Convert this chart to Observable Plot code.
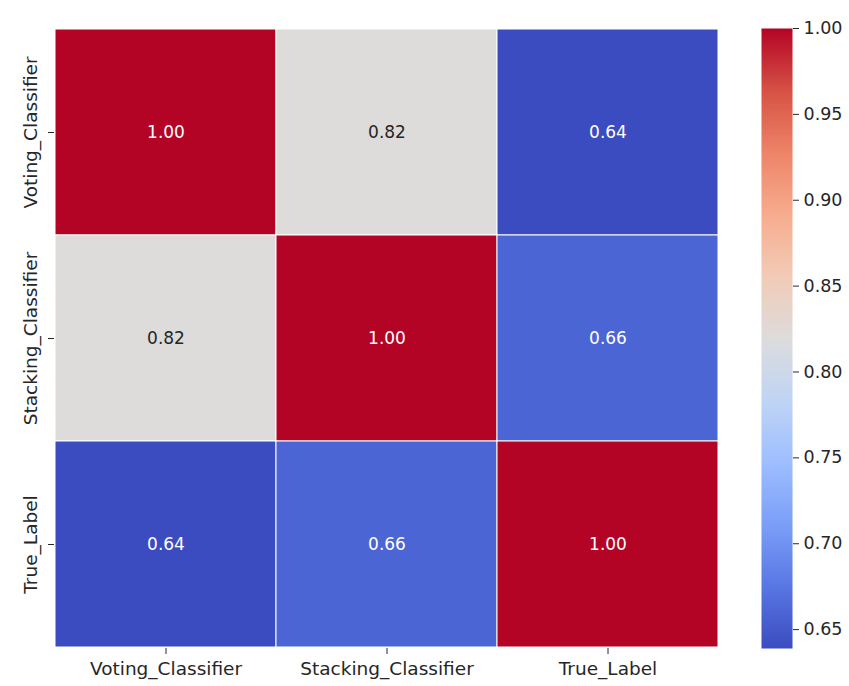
<!DOCTYPE html>
<html>
<head>
<meta charset="utf-8">
<script src="https://cdn.jsdelivr.net/npm/d3@7"></script>
<script src="https://cdn.jsdelivr.net/npm/@observablehq/plot@0.6"></script>
<style>
  html, body { margin: 0; padding: 0; background: #fff; }
  #wrap { position: relative; width: 849px; height: 686px; font-family: "DejaVu Sans", sans-serif; }
  #main { position: absolute; left: 0; top: 0; }
  #cbar { position: absolute; left: 740px; top: 0; }
</style>
</head>
<body>
<div id="wrap"><div id="main"></div><div id="cbar"></div></div>
<script>
// ---- data ----
const labels = ["Voting_Classifier", "Stacking_Classifier", "True_Label"];
const rowVoting   = [1.00, 0.82, 0.639];
const rowStacking = [0.82, 1.00, 0.66];
const rowTrue     = [0.639, 0.66, 1.00];
const colorbarTicks = [0.65, 0.70, 0.75, 0.80, 0.85, 0.90, 0.95, 1.00];

// matplotlib "coolwarm" stops
const coolwarm = ["#3b4cc0", "#5977e3", "#7b9ff9", "#9ebeff", "#c0d4f5", "#dddcdc",
                  "#f2cbb7", "#f7ac8e", "#ee8468", "#d65244", "#b40426"];

const rows = [rowVoting, rowStacking, rowTrue];
const cells = [];
rows.forEach((r, i) => r.forEach((v, j) => cells.push({row: labels[i], col: labels[j], value: v})));

const vmin = d3.min(cells, d => d.value);
const vmax = d3.max(cells, d => d.value);
const colorScale = {
  type: "linear",
  domain: [vmin, vmax],
  interpolate: d3.piecewise(d3.interpolateRgb, coolwarm)
};
const ink = "#262626";
const font = {fontFamily: "DejaVu Sans, sans-serif", fontSize: "17px", color: ink, background: "transparent"};

const main = Plot.plot({
  width: 740, height: 686,
  marginTop: 28, marginBottom: 38, marginLeft: 54, marginRight: 21,
  style: font,
  x: {type: "band", domain: labels, padding: 0, label: null},
  y: {type: "band", domain: labels, padding: 0, label: null},
  color: colorScale,
  marks: [
    Plot.cell(cells, {x: "col", y: "row", fill: "value", stroke: "white", strokeWidth: 1}),
    Plot.text(cells, {x: "col", y: "row", text: d => d3.format(".2f")(d.value),
      fill: d => (d.value > 0.75 && d.value < 0.9) ? ink : "white", fontSize: 17}),
    Plot.axisX({anchor: "bottom", tickSize: 6, tickPadding: 7, fontSize: 18.5, label: null, stroke: ink}),
    Plot.axisY({anchor: "left", tickSize: 6, tickPadding: 12, tickRotate: -90, fontSize: 18.5, label: null, stroke: ink})
  ]
});
document.getElementById("main").appendChild(main);

const cbar = Plot.plot({
  width: 109, height: 686,
  marginTop: 28, marginBottom: 38, marginLeft: 21, marginRight: 57,
  style: font,
  x: {domain: [0, 1], axis: null},
  y: {domain: [vmin, vmax], label: null},
  color: colorScale,
  marks: [
    Plot.raster({x1: 0, x2: 1, y1: vmin, y2: vmax, width: 1, height: 620, fill: (x, y) => y}),
    Plot.axisY({anchor: "right", ticks: colorbarTicks, tickFormat: ".2f", tickSize: 6, tickPadding: 5, fontSize: 17.5, label: null, stroke: ink})
  ]
});
document.getElementById("cbar").appendChild(cbar);
</script>
</body>
</html>
